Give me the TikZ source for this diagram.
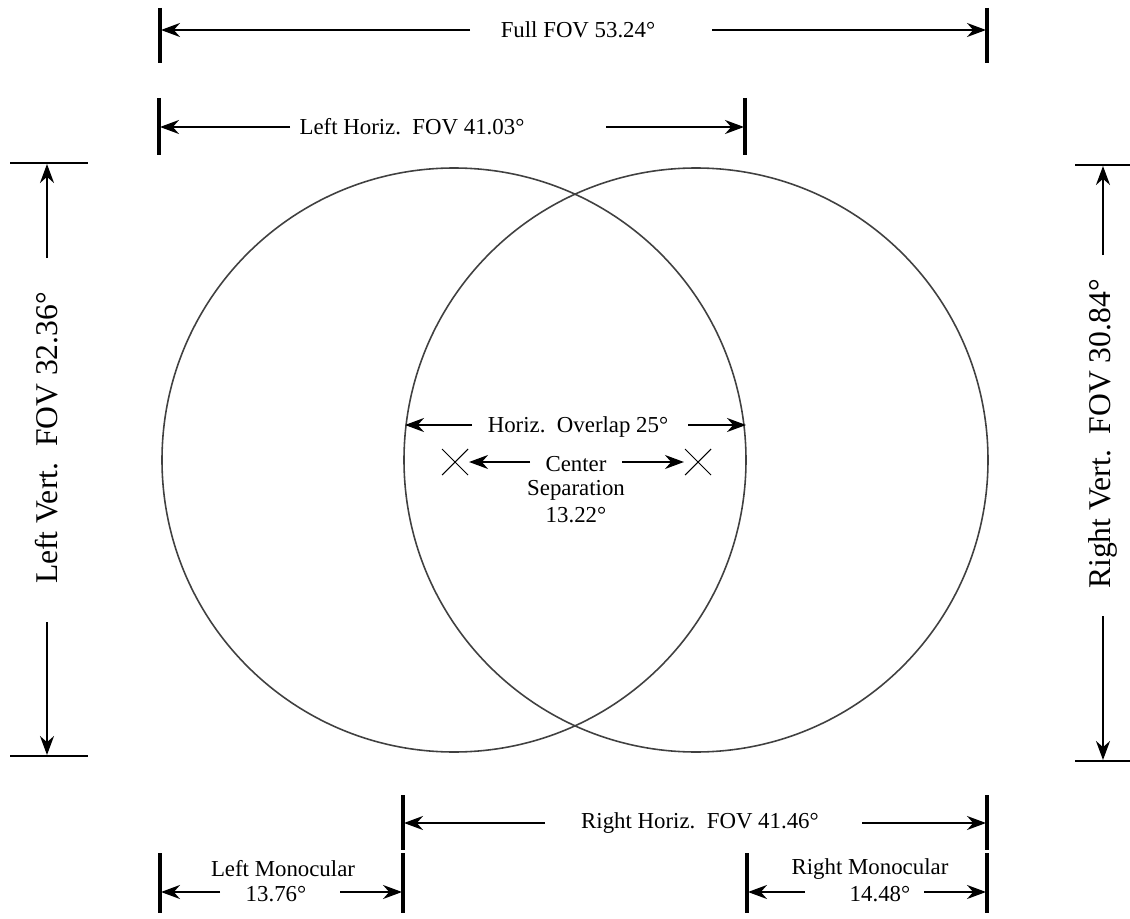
\documentclass[tikz,border=0pt]{standalone}
\usepackage{fontspec}
\setmainfont{Liberation Serif}
\usetikzlibrary{arrows.meta}
\usetikzlibrary{positioning}

\begin{document}
\begin{tikzpicture}[x=0.02cm, y=0.02cm, >={Stealth[length=3.8mm, width=2.8mm]}]
    \tikzset{
        ring/.style={draw=black!75, line width=0.9pt},
        tickline/.style={line width=2.2pt},
        dimarr/.style={->, line width=1.1pt},
        lbl/.style={inner sep=1pt, font=\fontsize{13}{15}\selectfont},
        vlbl/.style={inner sep=1pt, rotate=90, font=\fontsize{18}{20}\selectfont},
        xmark/.style={line width=0.6pt}
    }
    \useasboundingbox (0,0) rectangle (1130,-919);

    % the two fields of view
    \draw [ring] (454,-460) circle (292);
    \draw [ring] (696,-460) circle (292);

    % centres
    \coordinate (cL) at (455,-462);
    \coordinate (cR) at (698,-462);
    \draw [xmark] ([shift={(-13,13)}]cL) -- ([shift={(13,-13)}]cL);
    \draw [xmark] ([shift={(-13,-13)}]cL) -- ([shift={(13,13)}]cL);
    \draw [xmark] ([shift={(-13,13)}]cR) -- ([shift={(13,-13)}]cR);
    \draw [xmark] ([shift={(-13,-13)}]cR) -- ([shift={(13,13)}]cR);

    % full FOV
    \draw [tickline] (160,-8) -- (160,-63);
    \draw [tickline] (987,-8) -- (987,-63);
    \coordinate (fullL) at (161,-30);
    \coordinate (fullR) at (986,-30);
    \node [lbl] (fullt) at (578,-30) {Full FOV 53.24°};
    \coordinate (fullLa) at (470,-30);
    \coordinate (fullRa) at (712,-30);
    \draw [dimarr] (fullLa) -- (fullL);
    \draw [dimarr] (fullRa) -- (fullR);

    % left horizontal FOV
    \draw [tickline] (159,-98) -- (159,-155);
    \draw [tickline] (745,-98) -- (745,-155);
    \coordinate (lhL) at (160,-127);
    \coordinate (lhR) at (744,-127);
    \node [lbl] (lht) at (412,-127) {Left Horiz.\ \ FOV 41.03°};
    \coordinate (lhLa) at (290,-127);
    \coordinate (lhRa) at (606,-127);
    \draw [dimarr] (lhLa) -- (lhL);
    \draw [dimarr] (lhRa) -- (lhR);

    % left vertical FOV
    \draw [tickline, line width=1.6pt] (10,-163) -- (88,-163);
    \draw [tickline, line width=1.6pt] (10,-756) -- (88,-756);
    \coordinate (lvT) at (47,-164);
    \coordinate (lvB) at (47,-755);
    \node [vlbl] (lvt) at (47,-438) {Left Vert.\ \ FOV 32.36°};
    \coordinate (lvTa) at (47,-258);
    \coordinate (lvBa) at (47,-622);
    \draw [dimarr] (lvTa) -- (lvT);
    \draw [dimarr] (lvBa) -- (lvB);

    % right vertical FOV
    \draw [tickline, line width=1.6pt] (1075,-165) -- (1130,-165);
    \draw [tickline, line width=1.6pt] (1075,-761) -- (1130,-761);
    \coordinate (rvT) at (1103,-166);
    \coordinate (rvB) at (1103,-760);
    \node [vlbl] (rvt) at (1103,-434) {Right Vert.\ \ FOV 30.84°};
    \coordinate (rvTa) at (1103,-255);
    \coordinate (rvBa) at (1103,-616);
    \draw [dimarr] (rvTa) -- (rvT);
    \draw [dimarr] (rvBa) -- (rvB);

    % overlap and centre separation
    \coordinate (ovL) at (405,-425);
    \coordinate (ovR) at (746,-425);
    \node [lbl] (ovt) at (578,-427) {Horiz.\ \ Overlap 25°};
    \coordinate (ovLa) at (472,-425);
    \coordinate (ovRa) at (688,-425);
    \draw [dimarr] (ovLa) -- (ovL);
    \draw [dimarr] (ovRa) -- (ovR);

    \node [lbl, inner sep=0pt] (sept) at (576,-464) {Center};
    \node [lbl, inner sep=0pt] (sept2) at (576,-490) {Separation};
    \node [lbl, inner sep=0pt] (sept3) at (576,-515) {13.22°};
    \coordinate (sepLa) at (530,-462);
    \coordinate (sepRa) at (622,-462);
    \draw [dimarr] (sepLa) -- ([xshift=8]cL);
    \draw [dimarr] (sepRa) -- ([xshift=-8]cR);

    % right horizontal FOV
    \draw [tickline] (403,-795) -- (403,-850);
    \draw [tickline] (987,-795) -- (987,-850);
    \coordinate (rhL) at (404,-823);
    \coordinate (rhR) at (986,-823);
    \node [lbl] (rht) at (700,-823) {Right Horiz.\ \ FOV 41.46°};
    \coordinate (rhLa) at (545,-823);
    \coordinate (rhRa) at (862,-823);
    \draw [dimarr] (rhLa) -- (rhL);
    \draw [dimarr] (rhRa) -- (rhR);

    % monocular parts
    \draw [tickline] (160,-853) -- (160,-913);
    \draw [tickline] (403,-853) -- (403,-913);
    \node [lbl] (lmt) at (283,-869) {Left Monocular};
    \node [lbl] (lmt2) at (276,-894) {13.76°};
    \coordinate (lmL) at (161,-892);
    \coordinate (lmR) at (402,-892);
    \coordinate (lmLa) at (220,-892);
    \coordinate (lmRa) at (340,-892);
    \draw [dimarr] (lmLa) -- (lmL);
    \draw [dimarr] (lmRa) -- (lmR);

    \draw [tickline] (747,-853) -- (747,-913);
    \draw [tickline] (987,-853) -- (987,-913);
    \node [lbl] (rmt) at (870,-869) {Right Monocular};
    \node [lbl] (rmt2) at (880,-894) {14.48°};
    \coordinate (rmL) at (748,-892);
    \coordinate (rmR) at (986,-892);
    \coordinate (rmLa) at (805,-892);
    \coordinate (rmRa) at (924,-892);
    \draw [dimarr] (rmLa) -- (rmL);
    \draw [dimarr] (rmRa) -- (rmR);

\end{tikzpicture}
\end{document}
